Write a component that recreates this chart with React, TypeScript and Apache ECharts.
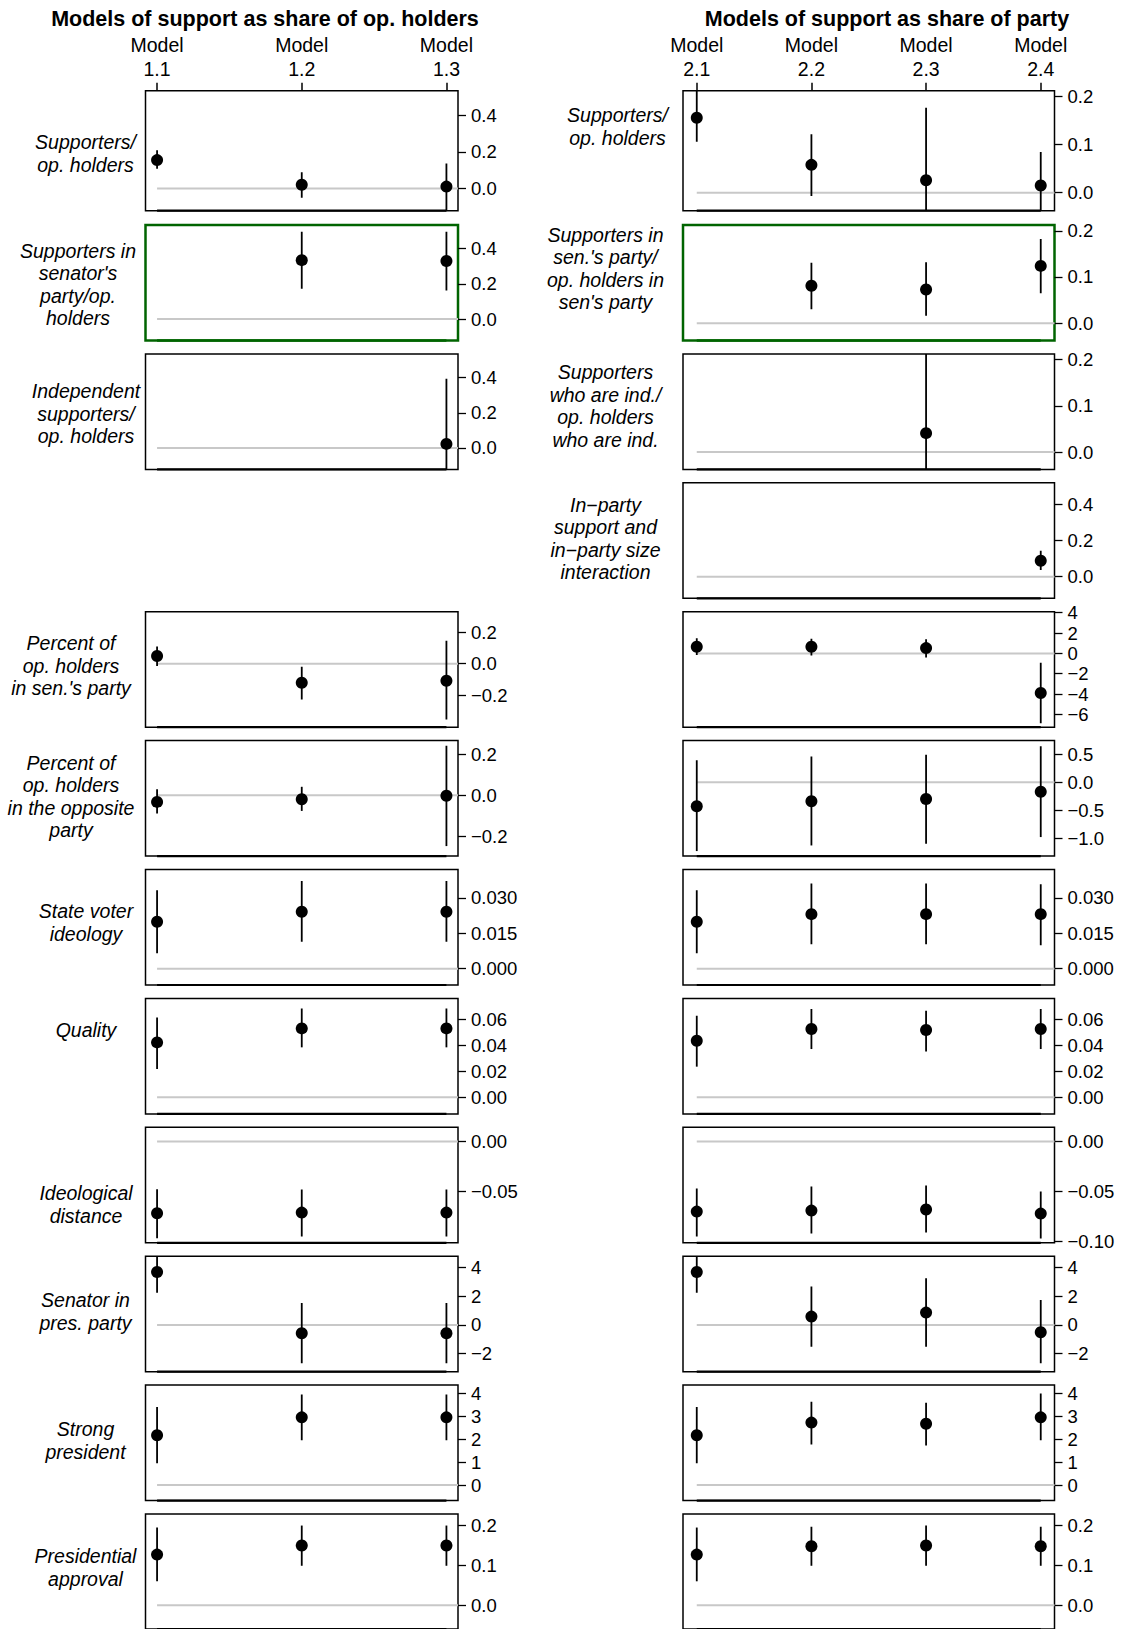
import React, { useEffect, useRef } from "react";
import * as echarts from "echarts";

// ---------- data ----------
const leftModels = ["1.1", "1.2", "1.3"];
const rightModels = ["2.1", "2.2", "2.3", "2.4"];

const leftTitle = "Models of support as share of op. holders";
const rightTitle = "Models of support as share of party";

const leftLabels = [
  "Supporters/\nop. holders",
  "Supporters in\nsenator's\nparty/op.\nholders",
  "Independent\nsupporters/\nop. holders",
  "",
  "Percent of\nop. holders\nin sen.'s party",
  "Percent of\nop. holders\nin the opposite\nparty",
  "State voter\nideology",
  "Quality",
  "Ideological\ndistance",
  "Senator in\npres. party",
  "Strong\npresident",
  "Presidential\napproval",
];
const rightLabels = [
  "Supporters/\nop. holders",
  "Supporters in\nsen.'s party/\nop. holders in\nsen's party",
  "Supporters\nwho are ind./\nop. holders\nwho are ind.",
  "In\u2212party\nsupport and\nin\u2212party size\ninteraction",
  "", "", "", "", "", "", "", "",
];

const leftEst = [
  [0.155, 0.02, 0.01],
  [null, 0.335, 0.33],
  [null, null, 0.023],
  null,
  [0.049, -0.122, -0.109],
  [-0.033, -0.02, -0.003],
  [0.0199, 0.0241, 0.0241],
  [0.0421, 0.0528, 0.0528],
  [-0.0717, -0.071, -0.071],
  [3.69, -0.58, -0.58],
  [2.18, 2.96, 2.96],
  [0.127, 0.15, 0.15],
];
const leftLo = [
  [0.107, -0.051, -0.126],
  [null, 0.172, 0.163],
  [null, null, -0.3],
  null,
  [-0.015, -0.228, -0.356],
  [-0.09, -0.077, -0.249],
  [0.0065, 0.0114, 0.0114],
  [0.0217, 0.0383, 0.0383],
  [-0.0966, -0.095, -0.095],
  [2.24, -2.67, -2.67],
  [0.95, 1.96, 1.96],
  [0.06, 0.099, 0.099],
];
const leftHi = [
  [0.209, 0.089, 0.136],
  [null, 0.496, 0.496],
  [null, null, 0.394],
  null,
  [0.109, -0.019, 0.146],
  [0.029, 0.041, 0.242],
  [0.0332, 0.0371, 0.0371],
  [0.0612, 0.068, 0.068],
  [-0.0478, -0.048, -0.048],
  [5.14, 1.52, 1.52],
  [3.41, 3.96, 3.96],
  [0.195, 0.2, 0.2],
];

const rightEst = [
  [0.156, 0.058, 0.026, 0.015],
  [null, 0.081, 0.073, 0.124],
  [null, null, 0.041, null],
  [null, null, null, 0.088],
  [0.65, 0.65, 0.52, -3.9],
  [-0.43, -0.34, -0.3, -0.17],
  [0.0199, 0.0231, 0.0231, 0.0231],
  [0.0434, 0.0524, 0.0516, 0.0524],
  [-0.07, -0.069, -0.068, -0.072],
  [3.69, 0.58, 0.86, -0.51],
  [2.18, 2.73, 2.68, 2.96],
  [0.127, 0.148, 0.15, 0.148],
];
const rightLo = [
  [0.106, -0.007, -0.125, -0.055],
  [null, 0.03, 0.016, 0.065],
  [null, null, -0.25, null],
  [null, null, null, 0.037],
  [-0.17, -0.2, -0.4, -6.87],
  [-1.23, -1.13, -1.1, -0.98],
  [0.0065, 0.0103, 0.0103, 0.0099],
  [0.0235, 0.037, 0.0352, 0.037],
  [-0.095, -0.092, -0.091, -0.097],
  [2.24, -1.52, -1.52, -2.67],
  [0.95, 1.77, 1.73, 1.96],
  [0.06, 0.099, 0.099, 0.099],
];
const rightHi = [
  [0.212, 0.122, 0.177, 0.085],
  [null, 0.131, 0.132, 0.182],
  [null, null, 0.3, null],
  [null, null, null, 0.143],
  [1.5, 1.45, 1.4, -0.93],
  [0.39, 0.46, 0.49, 0.64],
  [0.0332, 0.0361, 0.0361, 0.0358],
  [0.0626, 0.0677, 0.0664, 0.0677],
  [-0.047, -0.045, -0.044, -0.05],
  [5.14, 2.67, 3.25, 1.73],
  [3.41, 3.64, 3.6, 4.0],
  [0.195, 0.197, 0.2, 0.197],
];

// axis ranges and tick labels
const leftYMin = [-0.122, -0.122, -0.122, 0, -0.405, -0.298, -0.0069, -0.0127, -0.1012, -3.26, -0.68, -0.0598];
const leftYMax = [0.535, 0.535, 0.535, 0, 0.331, 0.267, 0.042, 0.0758, 0.0142, 4.79, 4.37, 0.229];
const rightYMin = [-0.0375, -0.0375, -0.0375, -0.12, -7.26, -1.32, -0.0069, -0.0127, -0.1012, -3.26, -0.68, -0.0598];
const rightYMax = [0.2125, 0.2125, 0.2125, 0.52, 4.1, 0.743, 0.042, 0.0758, 0.0142, 4.79, 4.37, 0.229];

const leftTicks = [
  [0, 0.2, 0.4], [0, 0.2, 0.4], [0, 0.2, 0.4], [],
  [-0.2, 0, 0.2], [-0.2, 0, 0.2], [0, 0.015, 0.03], [0, 0.02, 0.04, 0.06],
  [-0.05, 0], [-2, 0, 2, 4], [0, 1, 2, 3, 4], [0, 0.1, 0.2],
];
const rightTicks = [
  [0, 0.1, 0.2], [0, 0.1, 0.2], [0, 0.1, 0.2], [0, 0.2, 0.4],
  [-6, -4, -2, 0, 2, 4], [-1, -0.5, 0, 0.5], [0, 0.015, 0.03], [0, 0.02, 0.04, 0.06],
  [-0.1, -0.05, 0], [-2, 0, 2, 4], [0, 1, 2, 3, 4], [0, 0.1, 0.2],
];
const leftDecimals = [1, 1, 1, 0, 1, 1, 3, 2, 2, 0, 0, 1];
const rightDecimals = [1, 1, 1, 1, 0, 1, 3, 2, 2, 0, 0, 1];

// ---------- layout ----------
const rowTop = [90.7, 225, 353.9, 482.8, 611.7, 740.6, 869.5, 998.4, 1127.3, 1256.2, 1385.1, 1514.0];
const rowH = [120, 115.5, 115.5, 115.5, 115.5, 115.5, 115.5, 115.5, 115.5, 115.5, 115.5, 115.5];
const leftLabelX = [85.5, 78, 86, 0, 71, 71, 86, 86, 86, 85.5, 85.5, 85.5];
const leftLabelY = [153.5, 284.5, 413.5, 0, 665.5, 796.5, 922.5, 1029.5, 1204.5, 1311.5, 1440.5, 1567.5];
const rightLabelX = [617.5, 605.5, 605.5, 605.5];
const rightLabelY = [126.5, 268.5, 406, 538.5];

const FONT = "'Liberation Sans', Arial, Helvetica, sans-serif";

function fmt(dec: number) {
  return (v: number) => {
    const s = Math.abs(v) < 1e-12 ? (0).toFixed(dec) : Number(v).toFixed(dec);
    return s.replace("-", "\u2212");
  };
}

function buildOption() {
  const grid: any[] = [];
  const xAxis: any[] = [];
  const yAxis: any[] = [];
  const series: any[] = [];
  const graphic: any[] = [];

  const cols = [
    { models: leftModels, est: leftEst, lo: leftLo, hi: leftHi, ymin: leftYMin, ymax: leftYMax, ticks: leftTicks, dec: leftDecimals, x: 145.5, w: 312.5, xr: [0.92, 3.08] },
    { models: rightModels, est: rightEst, lo: rightLo, hi: rightHi, ymin: rightYMin, ymax: rightYMax, ticks: rightTicks, dec: rightDecimals, x: 683, w: 371.5, xr: [0.88, 4.12] },
  ];

  let idx = 0;
  cols.forEach((c) => {
    const n = c.models.length;
    const modelVals = c.models.map((_, i) => i + 1);
    for (let r = 0; r < 12; r++) {
      const est = c.est[r];
      if (!est) continue;
      const green = r === 1;
      grid.push({
        left: c.x, top: rowTop[r], width: c.w, height: rowH[r],
        show: true, borderColor: green ? "#006400" : "#000", borderWidth: green ? 2.5 : 1.5,
        backgroundColor: "transparent", containLabel: false,
      });
      if (r === 0) {
        xAxis.push({
          type: "value", gridIndex: idx, min: c.xr[0], max: c.xr[1], position: "top",
          axisLine: { show: false, onZero: false }, splitLine: { show: false },
          axisTick: { show: true, inside: false, length: 8, customValues: modelVals, lineStyle: { color: "#000", width: 1.5 } },
          axisLabel: {
            show: true, customValues: modelVals, margin: 10,
            formatter: (v: number) => "Model\n" + c.models[Math.round(v) - 1],
            fontSize: 19.5, lineHeight: 23.5, color: "#000", fontFamily: FONT,
          },
        });
      } else {
        xAxis.push({ type: "value", gridIndex: idx, min: c.xr[0], max: c.xr[1], show: false, axisLine: { onZero: false } });
      }
      yAxis.push({
        type: "value", gridIndex: idx, position: "right", min: c.ymin[r], max: c.ymax[r],
        axisLine: { show: false, onZero: false }, splitLine: { show: false },
        axisTick: { show: true, length: 8, customValues: c.ticks[r], lineStyle: { color: "#000", width: 1.3 } },
        axisLabel: { show: true, customValues: c.ticks[r], formatter: fmt(c.dec[r]), fontSize: 18.5, color: "#000", fontFamily: FONT, margin: 13 },
      });
      // zero reference line
      series.push({
        type: "line", xAxisIndex: idx, yAxisIndex: idx, data: [[1, 0], [c.xr[1], 0]],
        symbol: "none", lineStyle: { color: "#c8c8c8", width: 2 }, clip: false, silent: true, z: 1,
      });
      // axis line along bottom between first and last model
      series.push({
        type: "line", xAxisIndex: idx, yAxisIndex: idx, data: [[1, c.ymin[r]], [n, c.ymin[r]]],
        symbol: "none", lineStyle: { color: green ? "#006400" : "#000", width: green ? 2.5 : 2.2 }, clip: false, silent: true, z: 1,
      });
      const items: any[] = [];
      const dots: any[] = [];
      est.forEach((e: any, i: number) => {
        if (e === null || e === undefined) return;
        items.push([i + 1, e, (c.lo[r] as any)[i], (c.hi[r] as any)[i]]);
        dots.push([i + 1, e]);
      });
      series.push({
        type: "custom", xAxisIndex: idx, yAxisIndex: idx, data: items, clip: true, z: 2, silent: true,
        encode: { x: 0, y: [2, 3] },
        renderItem: (params: any, api: any) => {
          const x = api.value(0);
          const p1 = api.coord([x, api.value(2)]);
          const p2 = api.coord([x, api.value(3)]);
          return {
            type: "line",
            shape: { x1: p1[0], y1: p1[1], x2: p2[0], y2: p2[1] },
            style: { stroke: "#000", lineWidth: 1.8 },
          };
        },
      });
      series.push({
        type: "scatter", xAxisIndex: idx, yAxisIndex: idx, data: dots, symbol: "circle", symbolSize: 12,
        itemStyle: { color: "#000", opacity: 1 }, z: 3, silent: true,
      });
      idx++;
    }
  });

  const labelStyle = (text: string, x: number, y: number) => ({
    type: "text", x, y, silent: true,
    style: {
      text, fill: "#000", fontFamily: FONT, fontStyle: "italic", fontSize: 19.5,
      lineHeight: 22.5, align: "center", verticalAlign: "middle",
    },
  });
  leftLabels.forEach((t, r) => { if (t) graphic.push(labelStyle(t, leftLabelX[r], leftLabelY[r])); });
  rightLabels.forEach((t, r) => { if (t) graphic.push(labelStyle(t, rightLabelX[r], rightLabelY[r])); });

  graphic.push({
    type: "text", x: 265, y: 18.5, silent: true,
    style: { text: leftTitle, fill: "#000", fontFamily: FONT, fontWeight: "bold", fontSize: 21.5, align: "center", verticalAlign: "middle" },
  });
  graphic.push({
    type: "text", x: 887, y: 18.5, silent: true,
    style: { text: rightTitle, fill: "#000", fontFamily: FONT, fontWeight: "bold", fontSize: 21.5, align: "center", verticalAlign: "middle" },
  });

  return {
    animation: false,
    backgroundColor: "#fff",
    grid, xAxis, yAxis, series, graphic,
  };
}

export default function App() {
  const ref = useRef<HTMLDivElement>(null);
  useEffect(() => {
    document.body.style.margin = "0";
    const chart = echarts.init(ref.current as HTMLDivElement, null, { renderer: "svg" });
    chart.setOption(buildOption() as any);
    return () => chart.dispose();
  }, []);
  return <div ref={ref} style={{ width: 1130, height: 1629 }} />;
}
